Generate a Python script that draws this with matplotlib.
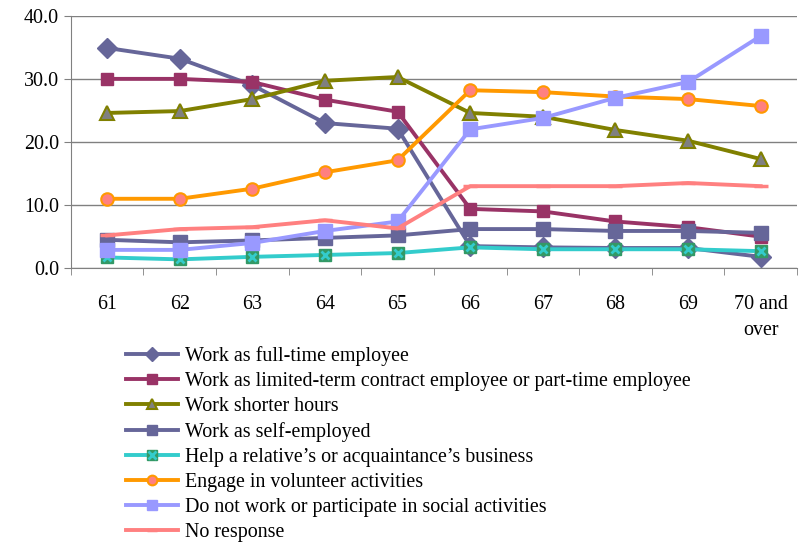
import matplotlib.pyplot as plt
from matplotlib.legend_handler import HandlerTuple

plt.rcParams['font.family'] = ['Liberation Serif', 'DejaVu Serif']

# Data
ages = ["61", "62", "63", "64", "65", "66", "67", "68", "69", "70 and\nover"]
full_time = [34.9, 33.2, 29.0, 23.0, 22.1, 3.5, 3.3, 3.2, 3.2, 1.8]
limited_term = [30.0, 30.0, 29.5, 26.7, 24.8, 9.4, 9.0, 7.4, 6.5, 5.0]
shorter_hours = [24.6, 24.9, 26.8, 29.7, 30.3, 24.6, 24.0, 21.9, 20.2, 17.3]
self_employed = [4.5, 4.1, 4.4, 4.8, 5.2, 6.2, 6.2, 5.9, 5.9, 5.6]
help_business = [1.7, 1.4, 1.8, 2.1, 2.4, 3.3, 3.0, 3.0, 3.0, 2.7]
volunteer = [11.0, 11.0, 12.6, 15.2, 17.1, 28.2, 27.9, 27.2, 26.8, 25.7]
no_work = [2.9, 2.9, 4.0, 5.9, 7.4, 22.0, 23.8, 27.0, 29.5, 36.8]
no_response = [5.2, 6.2, 6.5, 7.6, 6.3, 13.0, 13.0, 13.0, 13.5, 13.0]

fig = plt.figure(figsize=(8.05, 5.44), dpi=100)
ax = fig.add_axes([0.088, 0.507, 0.902, 0.464])
x = range(len(ages))
lw = 2.8

h1, = ax.plot(x, full_time, color='#666699', lw=lw, marker='D', ms=10)
h2, = ax.plot(x, limited_term, color='#993366', lw=lw, marker='s', ms=9)
h3, = ax.plot(x, shorter_hours, color='#808000', lw=lw, marker='^', ms=10,
              mfc='#808080', mec='#808000', mew=1.5)
h4, = ax.plot(x, self_employed, color='#666699', lw=lw, marker='s', ms=10)
h5, = ax.plot(x, help_business, color='#33CCCC', lw=lw, marker='s', ms=9,
              mfc='#339966', mec='#339966')
h5x, = ax.plot(x, help_business, color='none', marker='x', ms=6,
               mec='#33CCCC', mew=2)
h6, = ax.plot(x, volunteer, color='#FF9900', lw=lw, marker='o', ms=9,
              mfc='#FF8080', mec='#FF9900', mew=1.5)
h7, = ax.plot(x, no_work, color='#9999FF', lw=lw, marker='s', ms=10)
h8, = ax.plot(x, no_response, color='#FF8080', lw=lw, marker='_', ms=10, mew=2.5)

ax.set_xlim(-0.5, len(ages) - 0.5)
ax.set_ylim(0, 40)
ax.set_yticks([0, 10, 20, 30, 40])
ax.set_yticklabels(['0.0', '10.0', '20.0', '30.0', '40.0'])
ax.set_xticks(list(x))
ax.set_xticklabels(ages, fontsize=14.4, linespacing=1.55)
ax.set_xticks([i - 0.5 for i in range(len(ages) + 1)], minor=True)
ax.tick_params(axis='x', which='major', length=0, pad=19)
ax.tick_params(axis='x', which='minor', length=5, color='#808080')
ax.tick_params(axis='y', length=5, color='#808080', labelsize=14.4)
ax.yaxis.grid(True, color='#808080', lw=1)
ax.set_axisbelow(True)
for s in ['top', 'right']:
    ax.spines[s].set_visible(False)
for s in ['left', 'bottom']:
    ax.spines[s].set_color('#808080')

handles = [h1, h2, h3, h4, (h5, h5x), h6, h7, h8]
labels = ['Work as full-time employee',
          'Work as limited-term contract employee or part-time employee',
          'Work shorter hours',
          'Work as self-employed',
          'Help a relative\u2019s or acquaintance\u2019s business',
          'Engage in volunteer activities',
          'Do not work or participate in social activities',
          'No response']
leg = fig.legend(handles, labels, loc='upper left', bbox_to_anchor=(0.156, 0.363),
                 frameon=False, fontsize=14.4, handlelength=2.6, handletextpad=0.35,
                 labelspacing=0.3, borderpad=0, borderaxespad=0,
                 handler_map={tuple: HandlerTuple(ndivide=1)})
for lh in leg.get_lines():
    lh.set_markersize(7)

fig.savefig('out.png', dpi=100)
